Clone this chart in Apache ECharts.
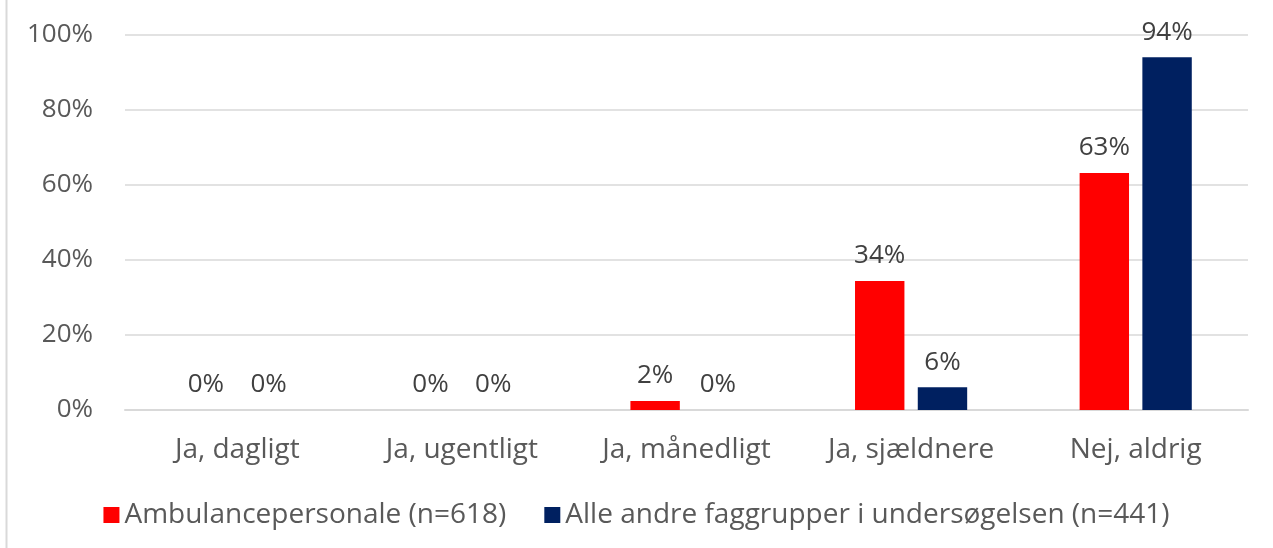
<!DOCTYPE html>
<html><head><meta charset="utf-8">
<script src="https://cdn.jsdelivr.net/npm/echarts@6/dist/echarts.min.js"></script>
<style>html,body{margin:0;padding:0;background:#fff}#c{width:1273px;height:548px}</style>
</head><body><div id="c"></div>
<script>
const categories = ['Ja, dagligt','Ja, ugentligt','Ja, månedligt','Ja, sjældnere','Nej, aldrig'];
const seriesNames = ['Ambulancepersonale (n=618)','Alle andre faggrupper i undersøgelsen (n=441)'];
const ambulance = [0, 0, 2.4, 34.4, 63.2];
const others = [0, 0, 0, 6.1, 94.1];
const colors = ['#FF0000', '#002060'];
const FONT = 'Open Sans';
const chart = echarts.init(document.getElementById('c'));
const label = {show:true, position:'top', distance:12, color:'#404040', fontFamily:FONT, fontSize:26,
  formatter: p => Math.round(p.value) + '%'};
chart.setOption({
  animation:false,
  textStyle:{fontFamily:FONT},
  grid:{left:125, right:25, top:35, bottom:138, containLabel:false},
  legend:{bottom:14, left:'center', itemWidth:16, itemHeight:16, itemGap:38, icon:'rect',
    textStyle:{fontFamily:FONT, fontSize:28, color:'#595959'}},
  xAxis:{type:'category', data:categories,
    axisLine:{lineStyle:{color:'#D9D9D9', width:2}}, axisTick:{show:false},
    axisLabel:{color:'#595959', fontFamily:FONT, fontSize:28, margin:26}},
  yAxis:{type:'value', min:0, max:100, interval:20,
    axisLabel:{formatter:'{value}%', color:'#595959', fontFamily:FONT, fontSize:26, margin:32},
    splitLine:{lineStyle:{color:'#D9D9D9', width:1.5}}, axisLine:{show:false}, axisTick:{show:false}},
  graphic:[{type:'line', shape:{x1:6.5,y1:0,x2:6.5,y2:548}, style:{stroke:'#D9D9D9', lineWidth:2}}],
  series:[
    {name:seriesNames[0], type:'bar', data:ambulance, itemStyle:{color:colors[0]}, barWidth:'22%', barGap:'27%', label},
    {name:seriesNames[1], type:'bar', data:others, itemStyle:{color:colors[1]}, barWidth:'22%', label}
  ]
});
</script></body></html>
